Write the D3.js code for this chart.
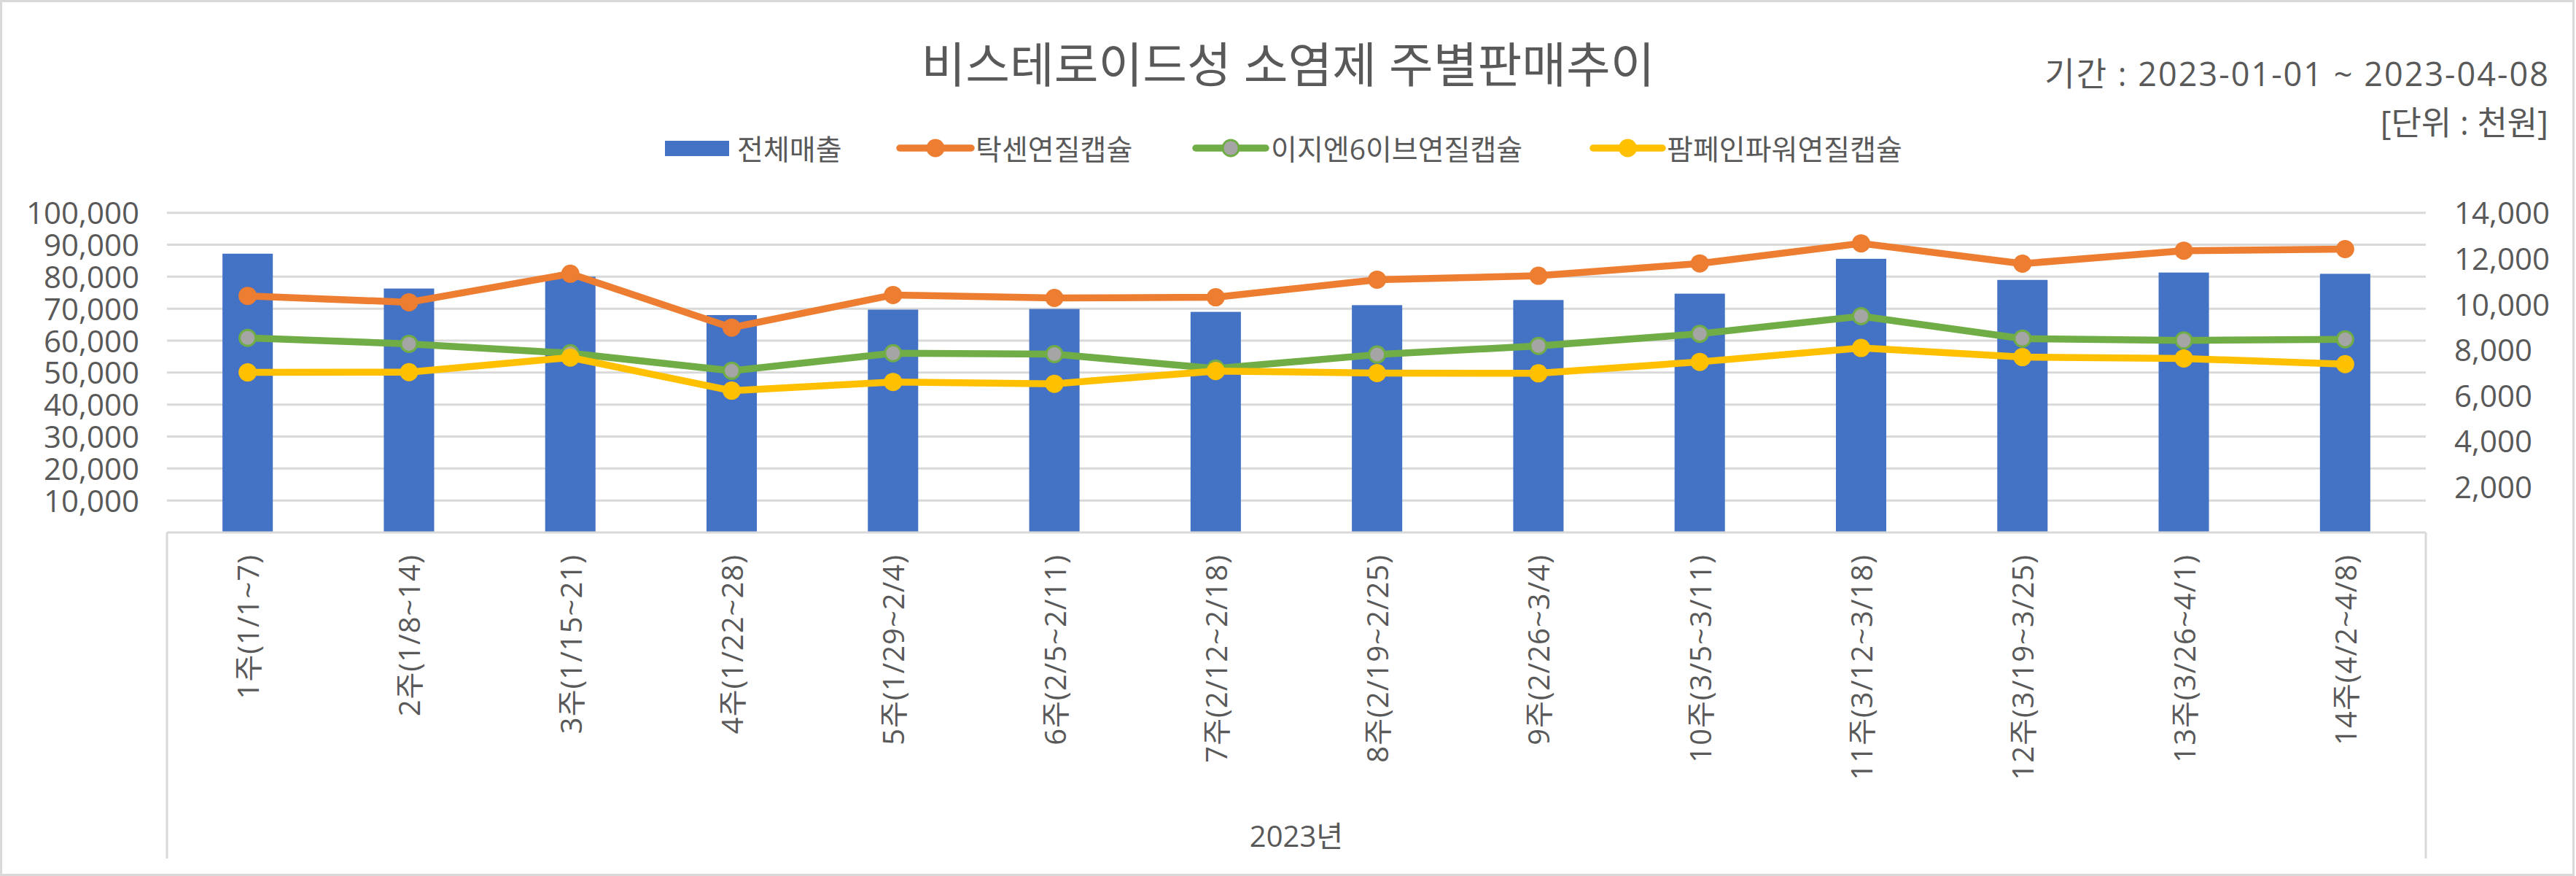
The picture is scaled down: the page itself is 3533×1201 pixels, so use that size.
<!DOCTYPE html>
<html><head><meta charset="utf-8">
<script src="https://cdn.jsdelivr.net/npm/d3@7"></script>
<style>
body{margin:0;background:#fff}
text{font-family:"Open Sans","Noto Sans CJK KR",sans-serif;fill:#595959}
</style>
</head><body>
<svg id="c" width="3533" height="1201"></svg>
<script>
const categories = ["1주(1/1~7)","2주(1/8~14)","3주(1/15~21)","4주(1/22~28)","5주(1/29~2/4)","6주(2/5~2/11)","7주(2/12~2/18)","8주(2/19~2/25)","9주(2/26~3/4)","10주(3/5~3/11)","11주(3/12~3/18)","12주(3/19~3/25)","13주(3/26~4/1)","14주(4/2~4/8)"];
const groupLabel = "2023년";
const seriesNames = ["전체매출","탁센연질캡슐","이지엔6이브연질캡슐","팜페인파워연질캡슐"];
const totalSales = [87200,76300,80000,68000,69700,69900,69000,71100,72700,74700,85600,79000,81300,80900];
const taxen = [10360,10080,11330,8970,10400,10270,10300,11070,11240,11780,12660,11770,12340,12410];
const easyn6 = [8520,8260,7850,7080,7850,7810,7180,7790,8170,8700,9470,8490,8410,8460];
const pampain = [7010,7020,7660,6210,6590,6510,7070,6980,6970,7470,8080,7680,7620,7370];
const leftTicks = [10000,20000,30000,40000,50000,60000,70000,80000,90000,100000];
const rightTicks = [2000,4000,6000,8000,10000,12000,14000];
const titleText = "비스테로이드성 소염제 주별판매추이";
const periodText = "기간 : 2023-01-01 ~ 2023-04-08";
const unitText = "[단위 : 천원]";

const W = 3533, H = 1201;
const plot = {left:229, right:3327, top:291.7, bottom:730, catBottom:1177};
const colors = {bar:"#4472C4", s1:"#ED7D31", s2:"#70AD47", s2fill:"#A5A5A5", s3:"#FFC000", grid:"#D9D9D9", text:"#595959"};

const svg = d3.select("#c");
svg.append("rect").attr("x",1.5).attr("y",1.5).attr("width",W-5).attr("height",H-3)
  .attr("fill","#fff").attr("stroke",colors.grid).attr("stroke-width",3);

const x = d3.scaleBand().domain(categories).range([plot.left, plot.right]).padding(0);
const yL = d3.scaleLinear().domain([0,100000]).range([plot.bottom, plot.top]);
const yR = d3.scaleLinear().domain([0,14000]).range([plot.bottom, plot.top]);
const cx = c => x(c) + x.bandwidth()/2;
const barW = x.bandwidth()*0.312;

// gridlines
svg.append("g").selectAll("line").data(leftTicks).join("line")
  .attr("x1",plot.left).attr("x2",plot.right)
  .attr("y1",d=>yL(d)).attr("y2",d=>yL(d))
  .attr("stroke",colors.grid).attr("stroke-width",3);

// left axis
const axL = svg.append("g").attr("transform",`translate(${plot.left},0)`)
  .call(d3.axisLeft(yL).tickValues(leftTicks).tickFormat(d3.format(",")).tickSize(0).tickPadding(38));
axL.select(".domain").remove();
axL.selectAll("text").attr("font-size",42).attr("fill",colors.text).attr("font-family",null).attr("dy","0.36em");

// right axis
const axR = svg.append("g").attr("transform",`translate(${plot.right},0)`)
  .call(d3.axisRight(yR).tickValues(rightTicks).tickFormat(d3.format(",")).tickSize(0).tickPadding(39));
axR.select(".domain").remove();
axR.selectAll("text").attr("font-size",42).attr("fill",colors.text).attr("font-family",null).attr("dy","0.36em");

// bars
svg.append("g").selectAll("rect").data(totalSales).join("rect")
  .attr("x",(d,i)=>cx(categories[i]) - barW/2)
  .attr("width",barW)
  .attr("y",d=>yL(d))
  .attr("height",d=>plot.bottom - yL(d))
  .attr("fill",colors.bar);

// category axis lines
svg.append("line").attr("x1",plot.left).attr("x2",plot.right).attr("y1",plot.bottom).attr("y2",plot.bottom)
  .attr("stroke",colors.grid).attr("stroke-width",3);
svg.append("line").attr("x1",plot.left).attr("x2",plot.left).attr("y1",plot.bottom).attr("y2",plot.catBottom)
  .attr("stroke",colors.grid).attr("stroke-width",3);
svg.append("line").attr("x1",plot.right).attr("x2",plot.right).attr("y1",plot.bottom).attr("y2",plot.catBottom)
  .attr("stroke",colors.grid).attr("stroke-width",3);

// category labels
svg.append("g").selectAll("text").data(categories).join("text")
  .attr("transform",d=>`translate(${cx(d)},760) rotate(-90)`)
  .attr("text-anchor","end").attr("dominant-baseline","central")
  .attr("font-size",40).attr("letter-spacing",1).text(d=>d);

svg.append("text").attr("x",(plot.left+plot.right)/2).attr("y",1145)
  .attr("text-anchor","middle").attr("dominant-baseline","central")
  .attr("font-size",40).text(groupLabel);

// lines
const lineSeries = [
  {vals:taxen, stroke:colors.s1, fill:colors.s1},
  {vals:easyn6, stroke:colors.s2, fill:colors.s2fill},
  {vals:pampain, stroke:colors.s3, fill:colors.s3}
];
const lineGen = d3.line().x((d,i)=>cx(categories[i])).y(d=>yR(d));
lineSeries.forEach(s=>{
  svg.append("path").datum(s.vals).attr("d",lineGen)
    .attr("fill","none").attr("stroke",s.stroke).attr("stroke-width",9.5)
    .attr("stroke-linejoin","round").attr("stroke-linecap","round");
  svg.append("g").selectAll("circle").data(s.vals).join("circle")
    .attr("cx",(d,i)=>cx(categories[i])).attr("cy",d=>yR(d))
    .attr("r",s.fill===s.stroke?12.5:11)
    .attr("fill",s.fill).attr("stroke",s.stroke).attr("stroke-width",s.fill===s.stroke?0:3);
});

// title & notes
svg.append("text").attr("x",W/2).attr("y",87).attr("text-anchor","middle").attr("dominant-baseline","central")
  .attr("font-size",66).text(titleText);
svg.append("text").attr("x",3497).attr("y",100).attr("text-anchor","end").attr("dominant-baseline","central")
  .attr("font-size",45).attr("letter-spacing",2).text(periodText);
svg.append("text").attr("x",3495).attr("y",167).attr("text-anchor","end").attr("dominant-baseline","central")
  .attr("font-size",45).text(unitText);

// legend
const lg = svg.append("g");
const legY = 203;
lg.append("rect").attr("x",912).attr("y",193).attr("width",88).attr("height",21).attr("fill",colors.bar);
const legItems = [
  {name:seriesNames[0], tx:1011},
  {name:seriesNames[1], tx:1338, x1:1234, x2:1332, s:lineSeries[0]},
  {name:seriesNames[2], tx:1743, x1:1640, x2:1736, s:lineSeries[1]},
  {name:seriesNames[3], tx:2286, x1:2185, x2:2280, s:lineSeries[2]}
];
legItems.forEach(it=>{
  if(it.s){
    lg.append("line").attr("x1",it.x1).attr("x2",it.x2).attr("y1",legY).attr("y2",legY)
      .attr("stroke",it.s.stroke).attr("stroke-width",9.5).attr("stroke-linecap","round");
    lg.append("circle").attr("cx",(it.x1+it.x2)/2).attr("cy",legY)
      .attr("r",it.s.fill===it.s.stroke?12.5:11)
      .attr("fill",it.s.fill).attr("stroke",it.s.stroke).attr("stroke-width",it.s.fill===it.s.stroke?0:3);
  }
  lg.append("text").attr("x",it.tx).attr("y",legY).attr("dominant-baseline","central")
    .attr("font-size",39).text(it.name);
});
</script>
</body></html>
